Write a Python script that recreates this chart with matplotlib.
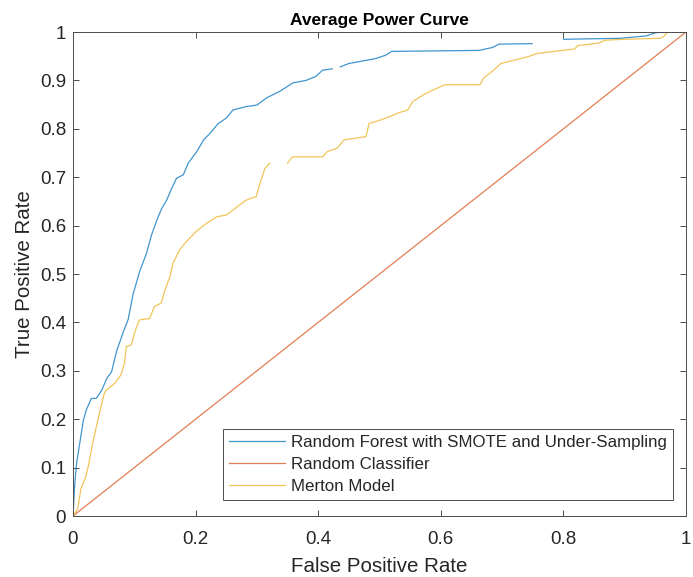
import numpy as np
import matplotlib
matplotlib.use("Agg")
import matplotlib.pyplot as plt

plt.rcParams['font.family'] = ['Liberation Sans', 'DejaVu Sans']

# Random Forest with SMOTE and Under-Sampling (FPR, TPR)
rf_fpr = [0.0, 0.003, 0.006, 0.011, 0.017, 0.022, 0.030, 0.038, 0.047, 0.055, 0.063,
          0.071, 0.082, 0.090, 0.098, 0.109, 0.120, 0.128, 0.137, 0.145, 0.153, 0.161,
          0.169, 0.180, 0.188, 0.202, 0.213, 0.223, 0.237, 0.250, 0.261, 0.283, 0.300,
          0.316, 0.338, 0.359, 0.380, 0.396, 0.407, 0.423, np.nan, 0.436, 0.450, 0.472,
          0.493, 0.510, 0.520, 0.662, 0.684, 0.695, 0.749, np.nan, 0.800, 0.892, 0.935,
          0.952, 1.0]
rf_tpr = [0.0, 0.068, 0.110, 0.150, 0.198, 0.220, 0.243, 0.243, 0.260, 0.284, 0.298,
          0.340, 0.380, 0.406, 0.458, 0.506, 0.543, 0.580, 0.612, 0.636, 0.653, 0.677,
          0.698, 0.705, 0.729, 0.753, 0.777, 0.790, 0.811, 0.822, 0.839, 0.846, 0.849,
          0.864, 0.878, 0.895, 0.900, 0.908, 0.921, 0.924, np.nan, 0.928, 0.935, 0.940,
          0.945, 0.952, 0.960, 0.962, 0.968, 0.975, 0.976, np.nan, 0.985, 0.987, 0.992,
          0.999, 1.0]

# Random Classifier
rc_fpr = [0.0, 1.0]
rc_tpr = [0.0, 1.0]

# Merton Model (FPR, TPR)
mm_fpr = [0.0, 0.008, 0.013, 0.021, 0.026, 0.032, 0.037, 0.043, 0.051, 0.054, 0.068,
          0.078, 0.084, 0.087, 0.095, 0.100, 0.108, 0.125, 0.133, 0.144, 0.150, 0.158,
          0.163, 0.174, 0.185, 0.201, 0.218, 0.234, 0.250, 0.261, 0.272, 0.283, 0.299,
          0.305, 0.313, 0.321, np.nan, 0.350, 0.358, 0.407, 0.415, 0.431, 0.442, 0.478,
          0.483, 0.494, 0.510, 0.529, 0.546, 0.554, 0.571, 0.587, 0.607, 0.664, 0.670,
          0.687, 0.698, 0.720, 0.742, 0.758, 0.785, 0.818, 0.824, 0.857, 0.868, 0.898,
          0.958, 0.963, 0.970, 1.0]
mm_tpr = [0.0, 0.016, 0.057, 0.081, 0.109, 0.150, 0.178, 0.212, 0.253, 0.260, 0.274,
          0.291, 0.315, 0.350, 0.353, 0.377, 0.405, 0.408, 0.433, 0.440, 0.467, 0.494,
          0.522, 0.550, 0.567, 0.588, 0.605, 0.618, 0.622, 0.632, 0.643, 0.653, 0.660,
          0.687, 0.718, 0.729, np.nan, 0.729, 0.742, 0.742, 0.753, 0.760, 0.777, 0.784,
          0.811, 0.815, 0.822, 0.832, 0.839, 0.856, 0.870, 0.880, 0.891, 0.891, 0.905,
          0.922, 0.935, 0.942, 0.949, 0.956, 0.960, 0.965, 0.972, 0.977, 0.983, 0.985,
          0.987, 0.990, 1.0, 1.0]

labels = ["Random Forest with SMOTE and Under-Sampling", "Random Classifier", "Merton Model"]
colors = ["#0072BD", "#D95319", "#EDB120"]
xtick_labels = ["0", "0.2", "0.4", "0.6", "0.8", "1"]
ytick_labels = ["0", "0.1", "0.2", "0.3", "0.4", "0.5", "0.6", "0.7", "0.8", "0.9", "1"]

fig = plt.figure(figsize=(6.93, 5.77), dpi=100)
ax = fig.add_axes([0.1053, 0.1057, 0.8846, 0.8388])

ax.plot(rf_fpr, rf_tpr, color=colors[0], lw=0.9, alpha=0.75, label=labels[0])
ax.plot(rc_fpr, rc_tpr, color=colors[1], lw=0.9, alpha=0.75, label=labels[1])
ax.plot(mm_fpr, mm_tpr, color=colors[2], lw=0.9, alpha=0.75, label=labels[2])

ax.set_xlim(0, 1)
ax.set_ylim(0, 1)
ax.set_xticks(np.linspace(0, 1, len(xtick_labels)))
ax.set_yticks(np.linspace(0, 1, len(ytick_labels)))
ax.set_xticklabels(xtick_labels)
ax.set_yticklabels(ytick_labels)
ax.tick_params(direction='in', top=True, right=True, labelsize=13.5, colors='#4d4d4d',
               labelcolor='#262626', length=4.5, width=0.7)
ax.tick_params(axis='x', pad=11)
ax.tick_params(axis='y', pad=5)
for s in ax.spines.values():
    s.set_color('#4d4d4d')
    s.set_linewidth(0.7)

ax.set_title("Average Power Curve", fontsize=12.5, fontweight='bold', pad=5, color='#000000')
ax.set_xlabel("False Positive Rate", fontsize=14.8, color='#262626', labelpad=6)
ax.set_ylabel("True Positive Rate", fontsize=14.8, color='#262626', labelpad=4)

leg = ax.legend(loc='lower right', bbox_to_anchor=(0.979, 0.033), fontsize=12.15,
                frameon=True, fancybox=False, edgecolor='#4d4d4d', handlelength=3.3,
                borderaxespad=0.0, labelspacing=0.42, borderpad=0.35,
                handletextpad=0.4, framealpha=1)
leg.get_frame().set_linewidth(0.7)
for t in leg.get_texts():
    t.set_color('#262626')

fig.savefig("out.png", dpi=100)
